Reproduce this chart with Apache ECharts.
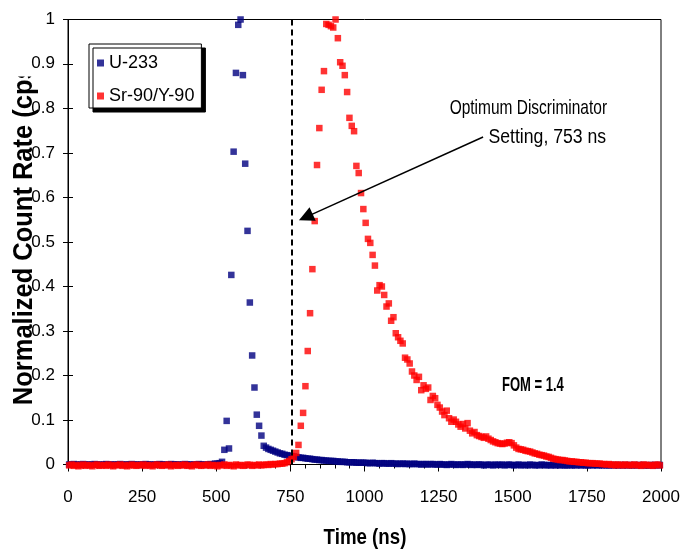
<!DOCTYPE html>
<html>
<head>
<meta charset="utf-8">
<script src="https://cdn.jsdelivr.net/npm/echarts@6/dist/echarts.min.js"></script>
<style>
  html, body { margin: 0; padding: 0; background: #fff; }
  #chart { width: 683px; height: 550px; }
</style>
</head>
<body>
<div id="chart"></div>
<script>
// Pulse-shape spectra: 256 time channels of 7.8125 ns, normalized to peak = 1
const binWidth = 7.8125;
const seriesNames = ['U-233', 'Sr-90/Y-90'];
const xTicks = { min: 0, max: 2000, step: 250 };
const yTicks = { min: 0, max: 1, step: 0.1 };
const discriminatorNs = 753;
const fomValue = 1.4;

const u233 = [
  0, 0, 0.001, 0, -0.001, 0, 0.001, 0, 0, -0.001, 0, 0.001, 0, 0, -0.001, 0,
  0.001, 0, 0, -0.001, 0, 0, 0.001, 0, -0.001, 0, 0, 0.001, 0, 0, -0.001, 0,
  0, 0.001, 0, 0, -0.001, 0, 0, 0.001, 0, 0, -0.001, 0, 0.001, 0, 0, 0,
  -0.001, 0, 0.001, 0, 0, -0.001, 0, 0, 0.001, 0, 0, -0.001, 0, 0.001, 0, 0.002,
  0.002, 0.003, 0.006, 0.033, 0.098, 0.036, 0.426, 0.703, 0.880, 0.988, 1.000, 0.875, 0.676, 0.525, 0.364, 0.245,
  0.173, 0.112, 0.087, 0.065, 0.042, 0.038, 0.035, 0.033, 0.031, 0.029, 0.027, 0.025, 0.024, 0.022, 0.021, 0.020,
  0.019, 0.018, 0.017, 0.016, 0.015, 0.015, 0.014, 0.013, 0.013, 0.012, 0.011, 0.011, 0.010, 0.010, 0.009, 0.009,
  0.008, 0.008, 0.008, 0.007, 0.007, 0.006, 0.006, 0.006, 0.005, 0.005, 0.005, 0.005, 0.004, 0.004, 0.004, 0.004,
  0.004, 0.003, 0.003, 0.004, 0.003, 0.003, 0.002, 0.003, 0.003, 0.002, 0.002, 0.003, 0.002, 0.002, 0.001, 0.002,
  0.002, 0.001, 0.002, 0.001, 0.001, 0.002, 0.001, 0.001, 0.000, 0.001, 0.001, 0.000, 0.001, 0.001, 0.000, 0.000,
  0.001, 0.000, 0.000, -0.001, 0.000, 0.001, 0.000, -0.001, 0.000, 0.000, -0.001, 0.000, 0.001, 0.000, -0.001, 0.000,
  -0.001, 0.000, 0.000, -0.002, -0.001, 0.000, -0.001, -0.002, 0.000, -0.001, -0.001, 0.000, -0.002, -0.001, 0.000, -0.001,
  -0.002, -0.001, 0.000, -0.002, -0.001, -0.001, -0.002, 0.000, -0.001, -0.002, -0.001, -0.002, 0.000, -0.001, -0.002, -0.001,
  -0.002, -0.001, -0.002, -0.001, -0.002, -0.001, -0.002, -0.002, -0.001, -0.002, -0.001, -0.002, -0.001, -0.002, -0.001, -0.002,
  -0.002, -0.001, -0.002, -0.001, -0.002, -0.001, -0.002, -0.001, -0.002, -0.002, -0.001, -0.002, -0.001, -0.002, -0.001, -0.002,
  -0.001, -0.002, -0.001, -0.002, -0.001, -0.002, -0.001, -0.002, -0.001, -0.002, -0.002, -0.001, -0.002, -0.001, -0.002, -0.001
];

const sr90y90 = [
  -0.002, 0.000, -0.003, -0.001, -0.004, -0.002, 0.000, -0.003, -0.001, -0.002, -0.004, -0.001, 0.000, -0.003, -0.002, -0.001,
  -0.003, 0.000, -0.002, -0.004, -0.001, -0.002, 0.000, -0.003, -0.001, -0.004, -0.002, 0.000, -0.002, -0.003, -0.001, -0.002,
  0.000, -0.003, -0.001, -0.002, -0.004, -0.001, 0.000, -0.002, -0.003, -0.001, -0.002, 0.000, -0.004, -0.002, -0.001, -0.003,
  -0.001, -0.002, 0.000, -0.003, -0.002, -0.004, -0.001, 0.000, -0.002, -0.003, -0.001, -0.002, 0.000, -0.003, -0.001, -0.002,
  -0.004, -0.001, -0.002, 0.000, -0.003, -0.001, -0.002, -0.004, 0.000, -0.002, -0.001, -0.003, -0.002, 0.000, -0.001, -0.003,
  -0.001, -0.002, 0.000, -0.002, -0.001, 0.000, -0.001, 0.001, 0.000, 0.001, 0.001, 0.002, 0.002, 0.003, 0.005, 0.008,
  0.012, 0.017, 0.026, 0.044, 0.087, 0.116, 0.176, 0.255, 0.340, 0.439, 0.547, 0.673, 0.756, 0.842, 0.884, 0.990,
  0.988, 0.985, 0.982, 1.000, 0.958, 0.904, 0.896, 0.875, 0.837, 0.779, 0.761, 0.749, 0.671, 0.655, 0.610, 0.574,
  0.543, 0.507, 0.498, 0.471, 0.447, 0.391, 0.403, 0.400, 0.381, 0.355, 0.362, 0.323, 0.331, 0.295, 0.286, 0.278,
  0.272, 0.240, 0.236, 0.227, 0.209, 0.200, 0.190, 0.197, 0.167, 0.178, 0.170, 0.173, 0.145, 0.154, 0.149, 0.134,
  0.128, 0.119, 0.111, 0.121, 0.104, 0.096, 0.101, 0.096, 0.090, 0.085, 0.091, 0.081, 0.093, 0.076, 0.070, 0.073,
  0.066, 0.064, 0.062, 0.060, 0.063, 0.058, 0.055, 0.052, 0.050, 0.048, 0.047, 0.046, 0.047, 0.049, 0.050, 0.048,
  0.043, 0.038, 0.035, 0.034, 0.033, 0.031, 0.030, 0.029, 0.027, 0.025, 0.024, 0.022, 0.021, 0.020, 0.018, 0.017,
  0.015, 0.013, 0.012, 0.011, 0.010, 0.010, 0.009, 0.008, 0.007, 0.007, 0.006, 0.006, 0.005, 0.005, 0.004, 0.004,
  0.003, 0.003, 0.003, 0.002, 0.002, 0.002, 0.001, 0.001, 0.000, 0.001, -0.001, 0.000, -0.002, 0.000, -0.001, -0.002,
  0.000, -0.001, -0.002, -0.001, 0.000, -0.002, -0.001, -0.003, 0.000, -0.001, -0.002, -0.001, -0.003, -0.001, 0.000, -0.002
];

// channel centre times in ns
const toPoints = vals => vals.map((v, i) => [(i + 0.5) * binWidth, v]);

const FONT = '"Liberation Sans", Arial, Helvetica, sans-serif';
const BLUE = '#000080';
const RED = '#ff0000';
const dashStyle = { color: '#000', width: 2, type: [6, 4] };
const arrowStyle = { color: '#000', width: 1.5, type: 'solid' };

const chart = echarts.init(document.getElementById('chart'), null, { renderer: 'canvas' });

const yLabel = v => String(+v.toFixed(1));

const option = {
  animation: false,
  backgroundColor: '#ffffff',
  grid: {
    left: 68, right: 22, top: 19.5, bottom: 85.5,
    outerBoundsMode: 'none',
    containLabel: false,
    show: true, borderColor: '#000', borderWidth: 1, backgroundColor: 'transparent'
  },
  legend: {
    data: seriesNames,
    orient: 'vertical',
    left: 89, top: 44,
    padding: [9, 7, 2, 8],
    itemGap: 13,
    itemWidth: 7, itemHeight: 7,
    icon: 'rect',
    backgroundColor: '#fff',
    borderColor: '#000', borderWidth: 1,
    shadowColor: '#000', shadowBlur: 0, shadowOffsetX: 4, shadowOffsetY: 4,
    textStyle: { fontFamily: FONT, fontSize: 18, color: '#000', lineHeight: 20 }
  },
  xAxis: {
    type: 'value',
    min: xTicks.min, max: xTicks.max, interval: xTicks.step,
    axisLine: { lineStyle: { color: '#000', width: 1 } },
    axisTick: { length: 7, lineStyle: { color: '#000' } },
    minorTick: { show: true, splitNumber: 5, length: 4, lineStyle: { color: '#000' } },
    splitLine: { show: false },
    axisLabel: { color: '#000', fontFamily: FONT, fontSize: 17, margin: 24, formatter: v => String(v) }
  },
  yAxis: [{
    type: 'value',
    min: yTicks.min, max: yTicks.max, interval: yTicks.step,
    axisLine: { show: true, lineStyle: { color: '#000', width: 1 } },
    axisTick: { show: true, length: 5, lineStyle: { color: '#000' } },
    splitLine: { show: false },
    axisLabel: {
      color: '#000', fontFamily: FONT, fontSize: 17, margin: 13,
      formatter: v => Math.abs(v - 0.9) < 1e-6 ? '{mask|' + yLabel(v) + '}' : yLabel(v),
      rich: {
        mask: { backgroundColor: '#fff', padding: [3, 0, 5, 44], color: '#000', fontFamily: FONT, fontSize: 17 }
      }
    }
  }, {
    type: 'value', position: 'left',
    min: yTicks.min, max: yTicks.max, interval: yTicks.step,
    axisLine: { show: false },
    axisTick: { show: true, inside: true, length: 5, lineStyle: { color: '#000' } },
    axisLabel: { show: false },
    splitLine: { show: false }
  }],
  series: [{
    name: seriesNames[0],
    type: 'scatter',
    data: toPoints(u233),
    symbol: 'rect', symbolSize: 6.5,
    itemStyle: { color: BLUE },
    clip: false
  }, {
    name: seriesNames[1],
    type: 'scatter',
    data: toPoints(sr90y90),
    symbol: 'rect', symbolSize: 6.5,
    itemStyle: { color: RED },
    clip: false,
    markLine: {
      silent: true,
      animation: false,
      label: { show: false },
      data: [
        [
          { coord: [discriminatorNs, 1], symbol: 'none', lineStyle: dashStyle },
          { coord: [discriminatorNs, 0], symbol: 'none', lineStyle: dashStyle }
        ],
        [
          { coord: [1400, 0.736], symbol: 'none', lineStyle: arrowStyle },
          { coord: [802, 0.556], symbol: 'triangle', symbolSize: 15, lineStyle: arrowStyle }
        ]
      ]
    }
  }]
};

chart.setOption(option);

// annotation texts anchored in data space
const notePos = chart.convertToPixel({ gridIndex: 0 }, [1818, 0.801]);
const notePos2 = chart.convertToPixel({ gridIndex: 0 }, [1815, 0.736]);
const fomPos = chart.convertToPixel({ gridIndex: 0 }, [1568, 0.179]);

chart.setOption({
  graphic: [
    {
      type: 'text', x: notePos[0], y: notePos[1], scaleX: 0.86, scaleY: 1.12, z: 10,
      style: { text: 'Optimum Discriminator', fontFamily: FONT, fontSize: 18, fill: '#000', align: 'right', verticalAlign: 'middle' }
    },
    {
      type: 'text', x: notePos2[0], y: notePos2[1], scaleX: 0.98, scaleY: 1.12, z: 10,
      style: { text: 'Setting, ' + discriminatorNs + ' ns', fontFamily: FONT, fontSize: 18, fill: '#000', align: 'right', verticalAlign: 'middle' }
    },
    {
      type: 'text', x: fomPos[0], y: fomPos[1], scaleX: 0.62, z: 10,
      style: { text: 'FOM = ' + fomValue, fontFamily: FONT, fontSize: 21, fontWeight: 'bold', fill: '#000', align: 'center', verticalAlign: 'middle' }
    },
    {
      type: 'text', x: 365, y: 538, scaleX: 0.85,
      style: { text: 'Time (ns)', fontFamily: FONT, fontSize: 22, fontWeight: 'bold', fill: '#000', align: 'center', verticalAlign: 'middle' }
    },
    {
      type: 'text', x: 24, y: 231, rotation: Math.PI / 2, scaleX: 0.91, z: -10,
      style: { text: 'Normalized Count Rate (cps)', fontFamily: FONT, fontSize: 28, fontWeight: 'bold', fill: '#000', align: 'center', verticalAlign: 'middle' }
    }
  ]
});
</script>
</body>
</html>
